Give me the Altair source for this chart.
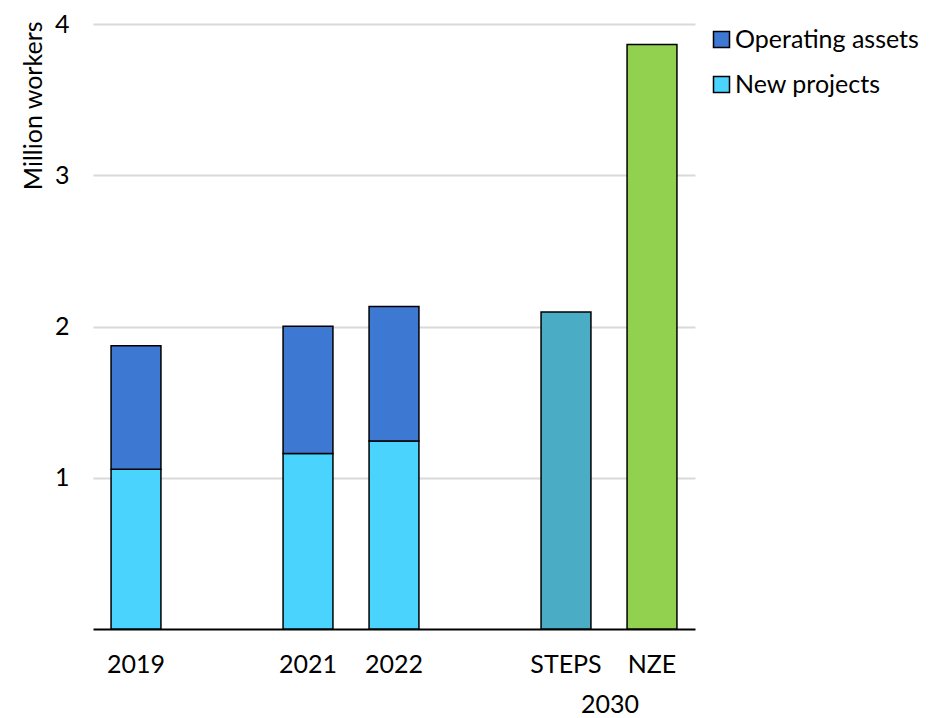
import altair as alt
import pandas as pd

# x slots (gaps are unlabeled empty slots)
slots = ["2019", "gap1", "2021", "2022", "gap2", "STEPS", "NZE"]

# stacked historical bars
hist_cats = ["2019", "2021", "2022"]
new_projects = [1.057, 1.160, 1.243]
operating_assets = [0.815, 0.842, 0.889]

# 2030 scenario bars
scen_cats = ["STEPS", "NZE"]
scen_values = [2.096, 3.864]

series_names = ["Operating assets", "New projects", "STEPS", "NZE"]
series_colors = ["#3D78D3", "#4AD4FD", "#4BACC6", "#92D050"]
legend_items = ["Operating assets", "New projects"]

group_label = "2030"
y_ticks = [1, 2, 3, 4]

rows = []
for c, n, o in zip(hist_cats, new_projects, operating_assets):
    rows.append({"cat": c, "series": "New projects", "value": n, "ord": 0})
    rows.append({"cat": c, "series": "Operating assets", "value": o, "ord": 1})
for c, v in zip(scen_cats, scen_values):
    rows.append({"cat": c, "series": c, "value": v, "ord": 0})
df = pd.DataFrame(rows)

FONT = "Lato"
FS = 25

x_scale = alt.Scale(domain=slots, paddingInner=0.42, paddingOuter=0.21)

bars = alt.Chart(df).mark_bar(stroke="black", strokeWidth=1.5).encode(
    x=alt.X("cat:N", scale=x_scale, sort=slots,
            axis=alt.Axis(title=None, labelExpr="indexof(datum.label, 'gap') >= 0 ? '' : datum.label",
                          labelAngle=0, ticks=False, domainColor="black", domainWidth=2,
                          labelPadding=23, labelFontSize=FS, labelFont=FONT, labelColor="black",
                          grid=False)),
    y=alt.Y("value:Q", stack="zero", scale=alt.Scale(domain=[0, 4], nice=False),
            axis=alt.Axis(values=y_ticks, format="d", title="Million workers", domain=False, ticks=False,
                          labelPadding=24, labelFontSize=FS, labelFont=FONT, labelColor="black",
                          titleFontSize=FS, titleFont=FONT, titleFontWeight="normal", titleColor="black",
                          titleAngle=-90, titleAlign="right", titleBaseline="middle",
                          titleX=-60, titleY=-3,
                          gridColor="#d9d9d9", gridWidth=2)),
    color=alt.Color("series:N", scale=alt.Scale(domain=series_names, range=series_colors),
                    legend=alt.Legend(values=legend_items, title=None, orient="none",
                                      legendX=616, legendY=3, symbolType="square",
                                      symbolSize=256, symbolStrokeColor="black",
                                      symbolStrokeWidth=1.5, symbolOpacity=1,
                                      labelFontSize=FS, labelFont=FONT, labelColor="black",
                                      labelLimit=400,
                                      labelOffset=1, rowPadding=19, padding=0)),
    order=alt.Order("ord:Q"),
)

label_df = pd.DataFrame({"cat": ["STEPS"], "text": [group_label], "v": [0]})
group_text = alt.Chart(label_df).mark_text(
    fontSize=FS, font=FONT, color="black", dx=44, dy=76, baseline="middle"
).encode(
    x=alt.X("cat:N", scale=x_scale, sort=slots),
    y=alt.Y("v:Q"),
    text="text:N",
)

chart = alt.layer(bars, group_text).properties(
    width=602, height=605, padding={"left": 13, "top": 4, "right": 5, "bottom": 0}
).configure_view(stroke=None).configure_axis(labelFont=FONT, titleFont=FONT)

chart.save("out.html", embed_options={"renderer": "svg", "actions": False})
